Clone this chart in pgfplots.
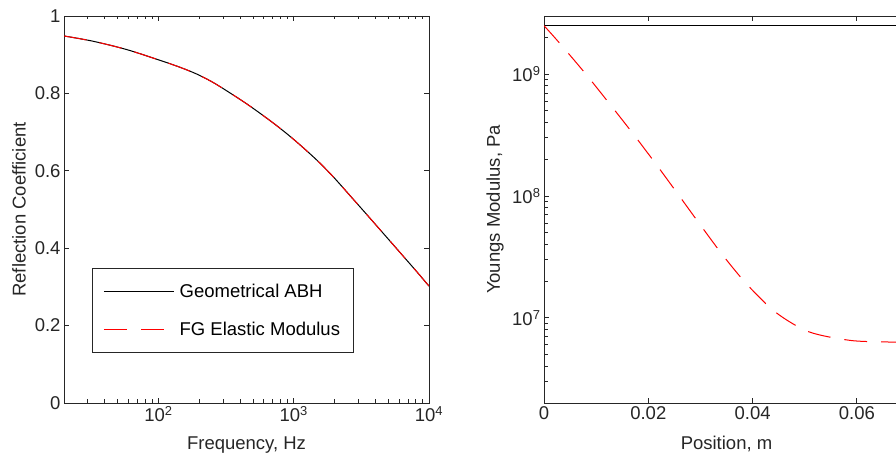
\documentclass[border=0pt]{standalone}
\usepackage{fontspec}
\setmainfont{Liberation Sans}
\usepackage{pgfplots}
\usepackage{pgfplotstable}
\pgfplotsset{compat=1.18}
\definecolor{axgray}{HTML}{262626}
\newcommand{\tp}[1]{10\textsuperscript{#1}}
\newcommand{\bigf}{\fontsize{18.5}{22}\selectfont}
\pgfplotsset{
  mat/.style={
    scale only axis, width=365pt, height=387pt, anchor=south west,
    axis line style={axgray, line width=0.9pt},
    tick style={axgray, line width=0.9pt},
    major tick length=5pt, minor tick length=3.5pt,
    tick label style={font=\bigf, text=axgray},
    label style={font=\bigf, text=axgray},
    /pgf/number format/assume math mode=true,
    legend image code/.code={\draw[#1] (0pt,0pt) -- (70pt,0pt);},
  }
}
% reflection coefficient
\pgfplotstableread{
f      R
20     0.9484
32.9   0.9347
58.2   0.9132
102.5  0.8855
144.1  0.8675
191.6  0.8500
254.1  0.8280
337.7  0.8012
448.7  0.7730
595.3  0.7425
791.3  0.7100
1051   0.6745
1477   0.6280
1961   0.5843
2605   0.5360
3462   0.4872
4594   0.4382
6101   0.3890
8110   0.3395
10000  0.3020
}\refl
\begin{document}
\begin{tikzpicture}
\useasboundingbox (0pt,0pt) rectangle (896pt,454pt);
\clip (0pt,0pt) rectangle (896pt,454pt);
\begin{axis}[mat, at={(64pt,51pt)},
    xmode=log, xmin=20, xmax=10000, ymin=0, ymax=1,
    xtick={100,1000,10000}, xticklabels={\tp{2},\tp{3},\tp{4}},
    minor xtick={30,40,50,60,70,80,90,200,300,400,500,600,700,800,900,2000,3000,4000,5000,6000,7000,8000,9000},
    ytick={0,0.2,0.4,0.6,0.8,1},
    xlabel={Frequency, Hz}, ylabel={Reflection Coefficient},
    xlabel style={at={(axis description cs:0.5,-0.121)}, anchor=base},
    ylabel style={at={(axis description cs:-0.123,0.5)}, anchor=center},
    legend cell align=left,
    legend style={at={(rel axis cs:0.0767,0.129)}, anchor=south west,
      draw=axgray, line width=0.7pt, font=\bigf, inner xsep=11pt, inner ysep=14pt,
      row sep=19pt,
      /tikz/every odd column/.append style={column sep=3pt}},
]
\addplot[black, line width=1pt, smooth, tension=0.5, forget plot] table[x=f, y=R] {\refl};
\addplot[red, line width=1pt, smooth, tension=0.5, dash pattern=on 23pt off 13pt, forget plot] table[x=f, y=R] {\refl};
\addlegendimage{black, draw=black, line width=1.1pt}
\addlegendentry{Geometrical ABH}
\addlegendimage{red, draw=red, line width=1.3pt, dash pattern=on 23pt off 14pt}
\addlegendentry{FG Elastic Modulus}
\end{axis}
\begin{axis}[mat, at={(544pt,51pt)},
    ymode=log, xmin=0, xmax=0.07, ymin=2e6, ymax=3e9,
    xtick={0,0.02,0.04,0.06}, scaled x ticks=false,
    xticklabel style={/pgf/number format/fixed, /pgf/number format/precision=2},
    ytick={1e7,1e8,1e9}, yticklabels={\tp{7},\tp{8},\tp{9}},
    minor ytick={3e6,4e6,5e6,6e6,7e6,8e6,9e6,2e7,3e7,4e7,5e7,6e7,7e7,8e7,9e7,2e8,3e8,4e8,5e8,6e8,7e8,8e8,9e8,2e9},
    xlabel={Position, m}, ylabel={Youngs Modulus, Pa},
    xlabel style={at={(axis description cs:0.5,-0.121)}, anchor=base},
    ylabel style={at={(axis description cs:-0.134,0.5)}, anchor=center},
]
\addplot[black, line width=1pt] coordinates {(0,2.5e9) (0.07,2.5e9)};
\addplot[red, draw=red, line width=1pt, smooth, dash pattern=on 23pt off 14pt] coordinates {
(0,2.5e9) (0.00307,1.78e9) (0.00786,1.02e9) (0.01246,5.79e8) (0.01701,3.27e8)
(0.02142,1.84e8) (0.02575,1.027e8) (0.0301,5.69e7) (0.03452,3.17e7)
(0.03918,1.83e7) (0.04462,1.094e7) (0.05087,7.66e6) (0.05868,6.53e6)
(0.06539,6.34e6) (0.07,6.32e6)};
\end{axis}
\end{tikzpicture}
\end{document}
